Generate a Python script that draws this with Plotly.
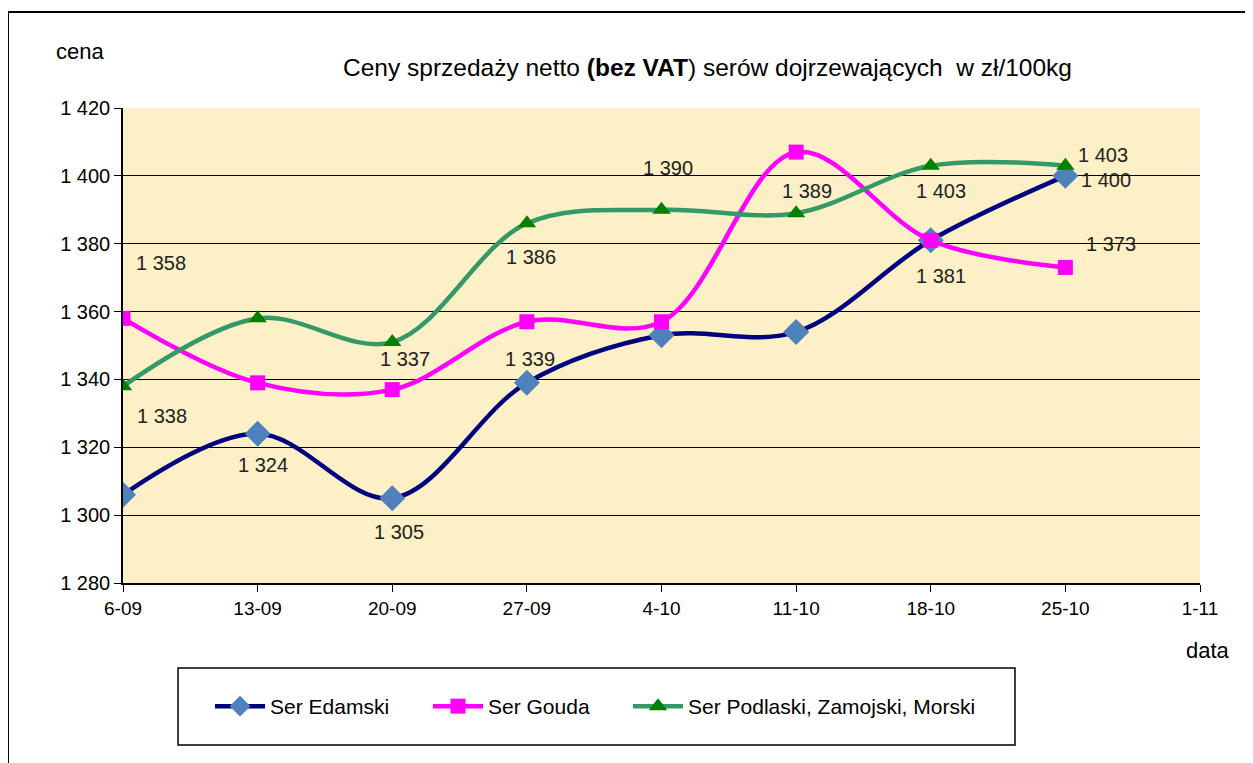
import plotly.graph_objects as go

# Dates (last one has no data)
daty = ['6-09', '13-09', '20-09', '27-09', '4-10', '11-10', '18-10', '25-10', '1-11']
daty_pomiaru = daty[:8]

# Prices net (bez VAT), zl/100kg
edamski = [1306, 1324, 1305, 1339, 1353, 1354, 1381, 1400]
gouda = [1358, 1339, 1337, 1357, 1357, 1407, 1381, 1373]
podlaski = [1338, 1358, 1351, 1386, 1390, 1389, 1403, 1403]

FONT = 'Liberation Sans, Arial, sans-serif'

fig = go.Figure()

fig.add_trace(go.Scatter(
    x=daty_pomiaru, y=edamski, name='Ser Edamski', mode='lines+markers',
    line=dict(color='#000080', width=4.5, shape='spline'),
    marker=dict(symbol='diamond', size=20, color='#4F81BD'),
    legend='legend',
))
fig.add_trace(go.Scatter(
    x=daty_pomiaru, y=gouda, name='Ser Gouda', mode='lines+markers',
    line=dict(color='#FF00FF', width=4.5, shape='spline'),
    marker=dict(symbol='square', size=15, color='#FF00FF'),
    legend='legend2',
))
fig.add_trace(go.Scatter(
    x=daty_pomiaru, y=podlaski, name='Ser Podlaski, Zamojski, Morski', mode='lines+markers',
    line=dict(color='#339966', width=4.5, shape='spline'),
    marker=dict(symbol='triangle-up', size=16, color='#008000'),
    legend='legend3',
))

# data labels: (series, index, pixel offset x, pixel offset y)
etykiety = [
    (gouda, 0, 38, 55), (podlaski, 0, 39, -30), (edamski, 1, 5, -31),
    (gouda, 2, 13, 31), (edamski, 2, 7, -34), (podlaski, 3, 4, -34),
    (edamski, 3, 3, 24), (podlaski, 4, 6, 42), (podlaski, 5, 11, 22),
    (podlaski, 6, 10, -25), (edamski, 6, 10, -36), (podlaski, 7, 38, 11),
    (edamski, 7, 41, -4), (gouda, 7, 46, 23),
]
for seria, i, dx, dy in etykiety:
    fig.add_annotation(
        x=daty_pomiaru[i], y=seria[i], text=f'{seria[i]:,}'.replace(',', ' '),
        showarrow=False, xshift=dx, yshift=dy, xanchor='center', yanchor='middle',
        font=dict(family=FONT, size=20, color='#222222'),
    )

# title and axis captions
fig.add_annotation(
    xref='paper', yref='paper', x=0.5425, y=1.086, xanchor='center', yanchor='middle',
    text='Ceny sprzedaży netto <b>(bez VAT</b>) serów dojrzewających  w zł/100kg',
    showarrow=False, font=dict(family=FONT, size=24.5, color='black'),
)
fig.add_annotation(xref='paper', yref='paper', x=-0.040, y=1.118, xanchor='center', yanchor='middle',
                   text='cena', showarrow=False, font=dict(family=FONT, size=22, color='black'))
fig.add_annotation(xref='paper', yref='paper', x=1.007, y=-0.143, xanchor='center', yanchor='middle',
                   text='data', showarrow=False, font=dict(family=FONT, size=22, color='black'))

# outer frame and legend box
fig.add_shape(type='rect', xref='paper', yref='paper', x0=-0.1068, x1=1.07, y0=-0.42, y1=1.2021,
              line=dict(color='black', width=2), layer='below')
fig.add_shape(type='rect', xref='paper', yref='paper', x0=0.0511, x1=0.8282, y0=-0.3411, y1=-0.1789,
              line=dict(color='black', width=1.5))

leg = dict(
    orientation='h', y=-0.26, xanchor='left', yanchor='middle',
    font=dict(family=FONT, size=21, color='black'),
    bgcolor='rgba(0,0,0,0)', borderwidth=0, itemwidth=50,
)

# page body has an 8px margin, so the figure is a bit smaller than the window
fig.update_layout(
    width=1245, height=755,
    margin=dict(l=115, r=53, t=100, b=180),
    paper_bgcolor='white', plot_bgcolor='#FDEFC6',
    separators=', ',
    font=dict(family=FONT, size=19, color='black'),
    showlegend=True,
    legend=dict(leg, x=0.0808),
    legend2=dict(leg, x=0.2832),
    legend3=dict(leg, x=0.4689),
)
fig.update_xaxes(
    type='category', categoryorder='array', categoryarray=daty,
    range=[0, 8], showgrid=False, showline=True, linecolor='black', linewidth=1.5,
    ticks='outside', ticklen=7, tickcolor='black', tickfont=dict(size=19),
    tickmode='array', tickvals=daty, ticktext=daty,
)
fig.update_yaxes(
    range=[1280, 1420], dtick=20, tickformat=',d',
    showgrid=True, gridcolor='black', gridwidth=1,
    showline=True, linecolor='black', linewidth=1.5,
    ticks='outside', ticklen=7, tickcolor='black', tickfont=dict(size=20),
    zeroline=False,
)

fig.write_html('out.html')
